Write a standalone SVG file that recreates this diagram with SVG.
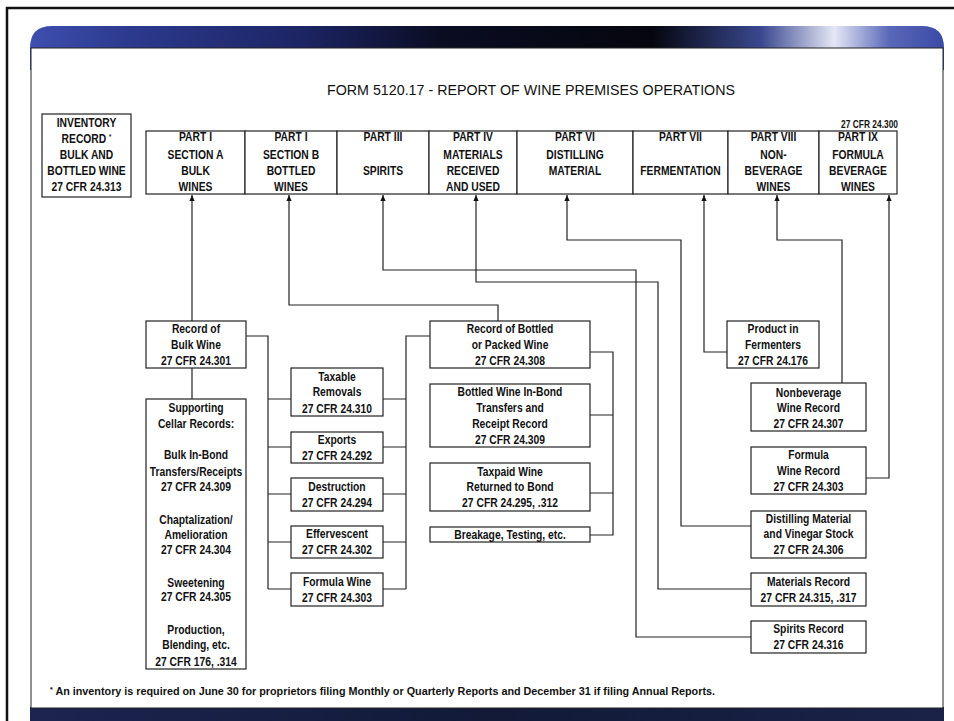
<svg xmlns="http://www.w3.org/2000/svg" width="954" height="721" viewBox="0 0 954 721">
<defs>
<linearGradient id="ban" x1="30" y1="0" x2="944" y2="0" gradientUnits="userSpaceOnUse">
<stop offset="0" stop-color="#3e4fae"/>
<stop offset="0.1" stop-color="#2d3b90"/>
<stop offset="0.3" stop-color="#1c2463"/>
<stop offset="0.45" stop-color="#0a0d22"/>
<stop offset="0.68" stop-color="#05060e"/>
<stop offset="0.8" stop-color="#3a4890"/>
<stop offset="0.88" stop-color="#e4e7f5"/>
<stop offset="0.94" stop-color="#5a68b8"/>
<stop offset="1" stop-color="#3a4aa6"/>
</linearGradient>
<linearGradient id="bot" x1="0" y1="0" x2="1" y2="0">
<stop offset="0" stop-color="#1c2450"/>
<stop offset="0.5" stop-color="#121a38"/>
<stop offset="1" stop-color="#1a2248"/>
</linearGradient>
<marker id="ar" viewBox="0 0 8 8" refX="8" refY="4" markerWidth="7" markerHeight="6" markerUnits="userSpaceOnUse" orient="auto">
<path d="M0,0.5 L8,4 L0,7.5 z" fill="#111"/>
</marker>
</defs>
<style>
.t{font-family:"Liberation Sans",Arial,sans-serif;font-weight:bold;font-size:12px;text-anchor:middle;fill:#111}
.bx{fill:#fff;stroke:#222;stroke-width:1.2}
.ln{fill:none;stroke:#222;stroke-width:1.2}
.sup{font-size:7px}
</style>
<rect x="0" y="0" width="954" height="721" fill="#fff"/>
<g id="frame">
<path d="M7,721 V8 H954" fill="none" stroke="#111" stroke-width="2.5"/>
<path d="M30,70 V48 Q30,26 52,26 H922 Q944,26 944,48 V70 Z" fill="url(#ban)"/>
<rect x="30" y="707" width="914" height="14" fill="url(#bot)"/>
<rect x="31" y="48" width="912" height="660" fill="#fff" stroke="#222" stroke-width="1"/>
</g>
<text x="531" y="95" textLength="408" lengthAdjust="spacingAndGlyphs" style="font-family:'Liberation Sans',Arial,sans-serif;font-size:15.5px;fill:#111;text-anchor:middle">FORM 5120.17 - REPORT OF WINE PREMISES OPERATIONS</text>

<g id="inventory">
<rect class="bx" x="42" y="114" width="89" height="83"/>
<g transform="translate(86.5 0) scale(0.86 1)">
<text class="t" x="0" y="127">INVENTORY</text>
<text class="t" x="0" y="143">RECORD <tspan class="sup" dy="-4">*</tspan></text>
<text class="t" x="0" y="159">BULK AND</text>
<text class="t" x="0" y="175">BOTTLED WINE</text>
<text class="t" x="0" y="191">27 CFR 24.313</text>
</g></g>

<g transform="translate(898 0) scale(0.84 1)"><text class="t" x="0" y="128" style="text-anchor:end;font-size:10px">27 CFR 24.300</text></g>

<g id="part1a"><rect class="bx" x="146" y="131" width="99" height="63"/>
<g transform="translate(195.5 0) scale(0.86 1)"><text class="t" x="0" y="141">PART I</text><text class="t" x="0" y="159">SECTION A</text><text class="t" x="0" y="175">BULK</text><text class="t" x="0" y="191">WINES</text></g></g>
<g id="part1b"><rect class="bx" x="245" y="131" width="92" height="63"/>
<g transform="translate(291 0) scale(0.86 1)"><text class="t" x="0" y="141">PART I</text><text class="t" x="0" y="159">SECTION B</text><text class="t" x="0" y="175">BOTTLED</text><text class="t" x="0" y="191">WINES</text></g></g>
<g id="part3"><rect class="bx" x="337" y="131" width="92" height="63"/>
<g transform="translate(383 0) scale(0.86 1)"><text class="t" x="0" y="141">PART III</text><text class="t" x="0" y="175">SPIRITS</text></g></g>
<g id="part4"><rect class="bx" x="429" y="131" width="88" height="63"/>
<g transform="translate(473 0) scale(0.86 1)"><text class="t" x="0" y="141">PART IV</text><text class="t" x="0" y="159">MATERIALS</text><text class="t" x="0" y="175">RECEIVED</text><text class="t" x="0" y="191">AND USED</text></g></g>
<g id="part6"><rect class="bx" x="517" y="131" width="116" height="63"/>
<g transform="translate(575 0) scale(0.86 1)"><text class="t" x="0" y="141">PART VI</text><text class="t" x="0" y="159">DISTILLING</text><text class="t" x="0" y="175">MATERIAL</text></g></g>
<g id="part7"><rect class="bx" x="633" y="131" width="95" height="63"/>
<g transform="translate(680.5 0) scale(0.86 1)"><text class="t" x="0" y="141">PART VII</text><text class="t" x="0" y="175">FERMENTATION</text></g></g>
<g id="part8"><rect class="bx" x="728" y="131" width="91" height="63"/>
<g transform="translate(773.5 0) scale(0.86 1)"><text class="t" x="0" y="141">PART VIII</text><text class="t" x="0" y="159">NON-</text><text class="t" x="0" y="175">BEVERAGE</text><text class="t" x="0" y="191">WINES</text></g></g>
<g id="part9"><rect class="bx" x="819" y="131" width="78" height="63"/>
<g transform="translate(858 0) scale(0.86 1)"><text class="t" x="0" y="141">PART IX</text><text class="t" x="0" y="159">FORMULA</text><text class="t" x="0" y="175">BEVERAGE</text><text class="t" x="0" y="191">WINES</text></g></g>

<g id="connectors">
<path class="ln" marker-end="url(#ar)" d="M192,321 V195"/>
<path class="ln" marker-end="url(#ar)" d="M498,321 V305 H289 V195"/>
<path class="ln" marker-end="url(#ar)" d="M751,637 H636 V270 H383 V195"/>
<path class="ln" marker-end="url(#ar)" d="M751,589 H658 V282 H476 V195"/>
<path class="ln" marker-end="url(#ar)" d="M751,526 H681 V240 H567 V195"/>
<path class="ln" marker-end="url(#ar)" d="M727,352 H704 V195"/>
<path class="ln" marker-end="url(#ar)" d="M842,383 V240 H777 V195"/>
<path class="ln" marker-end="url(#ar)" d="M866,478 H889 V195"/>
<path class="ln" d="M192,368 V399"/>
<path class="ln" d="M246,336 H268 V589 M268,399 H291 M268,447 H291 M268,494 H291 M268,542 H291 M268,589 H291"/>
<path class="ln" d="M430,336 H406 V589 M383,399 H406 M383,447 H406 M383,494 H406 M383,542 H406 M383,589 H406"/>
<path class="ln" d="M590,352 H613 V535 H590 M590,415 H613 M590,493 H613"/>
</g>

<g id="bulk"><rect class="bx" x="146" y="321" width="100" height="47"/>
<g transform="translate(196 0) scale(0.86 1)"><text class="t" x="0" y="333">Record of</text><text class="t" x="0" y="349">Bulk Wine</text><text class="t" x="0" y="365">27 CFR 24.301</text></g></g>
<g id="cellar"><rect class="bx" x="146" y="399" width="100" height="270"/>
<g transform="translate(196 0) scale(0.86 1)"><text class="t" x="0" y="412">Supporting</text><text class="t" x="0" y="428">Cellar Records:</text>
<text class="t" x="0" y="459">Bulk In-Bond</text><text class="t" x="0" y="476">Transfers/Receipts</text><text class="t" x="0" y="491">27 CFR 24.309</text>
<text class="t" x="0" y="524">Chaptalization/</text><text class="t" x="0" y="539">Amelioration</text><text class="t" x="0" y="554">27 CFR 24.304</text>
<text class="t" x="0" y="587">Sweetening</text><text class="t" x="0" y="601">27 CFR 24.305</text>
<text class="t" x="0" y="634">Production,</text><text class="t" x="0" y="649">Blending, etc.</text><text class="t" x="0" y="666">27 CFR 176, .314</text></g></g>

<g id="taxable"><rect class="bx" x="291" y="368" width="92" height="48"/>
<g transform="translate(337 0) scale(0.86 1)"><text class="t" x="0" y="381">Taxable</text><text class="t" x="0" y="396">Removals</text><text class="t" x="0" y="413">27 CFR 24.310</text></g></g>
<g id="exports"><rect class="bx" x="291" y="432" width="92" height="31"/>
<g transform="translate(337 0) scale(0.86 1)"><text class="t" x="0" y="444">Exports</text><text class="t" x="0" y="460">27 CFR 24.292</text></g></g>
<g id="destruction"><rect class="bx" x="291" y="478" width="92" height="33"/>
<g transform="translate(337 0) scale(0.86 1)"><text class="t" x="0" y="491">Destruction</text><text class="t" x="0" y="507">27 CFR 24.294</text></g></g>
<g id="effervescent"><rect class="bx" x="291" y="526" width="92" height="32"/>
<g transform="translate(337 0) scale(0.86 1)"><text class="t" x="0" y="538">Effervescent</text><text class="t" x="0" y="554">27 CFR 24.302</text></g></g>
<g id="formulawine"><rect class="bx" x="291" y="573" width="92" height="33"/>
<g transform="translate(337 0) scale(0.86 1)"><text class="t" x="0" y="586">Formula Wine</text><text class="t" x="0" y="602">27 CFR 24.303</text></g></g>

<g id="bottled"><rect class="bx" x="430" y="321" width="160" height="47"/>
<g transform="translate(510 0) scale(0.86 1)"><text class="t" x="0" y="333">Record of Bottled</text><text class="t" x="0" y="349">or Packed Wine</text><text class="t" x="0" y="365">27 CFR 24.308</text></g></g>
<g id="inbond"><rect class="bx" x="430" y="384" width="160" height="63"/>
<g transform="translate(510 0) scale(0.86 1)"><text class="t" x="0" y="396">Bottled Wine In-Bond</text><text class="t" x="0" y="412">Transfers and</text><text class="t" x="0" y="428">Receipt Record</text><text class="t" x="0" y="444">27 CFR 24.309</text></g></g>
<g id="taxpaid"><rect class="bx" x="430" y="463" width="160" height="48"/>
<g transform="translate(510 0) scale(0.86 1)"><text class="t" x="0" y="476">Taxpaid Wine</text><text class="t" x="0" y="491">Returned to Bond</text><text class="t" x="0" y="507">27 CFR 24.295, .312</text></g></g>
<g id="breakage"><rect class="bx" x="430" y="527" width="160" height="15"/>
<g transform="translate(510 0) scale(0.86 1)"><text class="t" x="0" y="539">Breakage, Testing, etc.</text></g></g>

<g id="fermenters"><rect class="bx" x="727" y="321" width="92" height="47"/>
<g transform="translate(773 0) scale(0.86 1)"><text class="t" x="0" y="333">Product in</text><text class="t" x="0" y="349">Fermenters</text><text class="t" x="0" y="365">27 CFR 24.176</text></g></g>
<g id="nonbev"><rect class="bx" x="751" y="383" width="115" height="48"/>
<g transform="translate(808.5 0) scale(0.86 1)"><text class="t" x="0" y="397">Nonbeverage</text><text class="t" x="0" y="412">Wine Record</text><text class="t" x="0" y="428">27 CFR 24.307</text></g></g>
<g id="formularec"><rect class="bx" x="751" y="447" width="115" height="47"/>
<g transform="translate(808.5 0) scale(0.86 1)"><text class="t" x="0" y="459">Formula</text><text class="t" x="0" y="475">Wine Record</text><text class="t" x="0" y="491">27 CFR 24.303</text></g></g>
<g id="distilling"><rect class="bx" x="751" y="511" width="115" height="47"/>
<g transform="translate(808.5 0) scale(0.86 1)"><text class="t" x="0" y="523">Distilling Material</text><text class="t" x="0" y="538">and Vinegar Stock</text><text class="t" x="0" y="554">27 CFR 24.306</text></g></g>
<g id="materials"><rect class="bx" x="751" y="573" width="115" height="33"/>
<g transform="translate(808.5 0) scale(0.86 1)"><text class="t" x="0" y="586">Materials Record</text><text class="t" x="0" y="602">27 CFR 24.315, .317</text></g></g>
<g id="spirits"><rect class="bx" x="751" y="621" width="115" height="32"/>
<g transform="translate(808.5 0) scale(0.86 1)"><text class="t" x="0" y="633">Spirits Record</text><text class="t" x="0" y="649">27 CFR 24.316</text></g></g>

<text x="50" y="695" textLength="665" lengthAdjust="spacingAndGlyphs" style="font-family:'Liberation Sans',Arial,sans-serif;font-weight:bold;font-size:10.5px;fill:#111"><tspan class="sup" dy="-3">*</tspan><tspan dy="3"> An inventory is required on June 30 for proprietors filing Monthly or Quarterly Reports and December 31 if filing Annual Reports.</tspan></text>
</svg>
